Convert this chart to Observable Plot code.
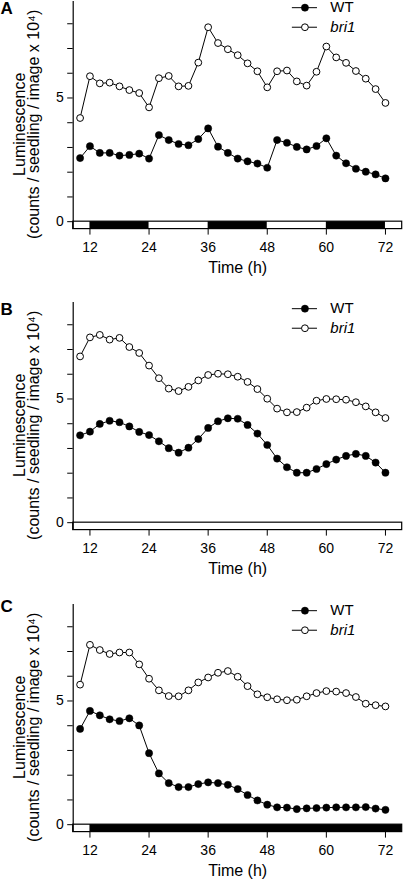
<!DOCTYPE html>
<html>
<head>
<meta charset="utf-8">
<script src="https://cdn.jsdelivr.net/npm/d3@7"></script>
<script src="https://cdn.jsdelivr.net/npm/@observablehq/plot@0.6"></script>
<style>
  html, body { margin: 0; padding: 0; background: #fff; }
  #chart svg { display: block; }
</style>
</head>
<body>
<div id="chart"></div>
<script>
// ---- Data ----
const hours = [10,12,14,16,18,20,22,24,26,28,30,32,34,36,38,40,42,44,46,48,50,52,54,56,58,60,62,64,66,68,70,72];

const wtA   = [2.57,3.05,2.78,2.78,2.67,2.70,2.75,2.55,3.50,3.30,3.14,3.09,3.34,3.77,3.03,2.78,2.55,2.44,2.35,2.18,3.30,3.19,3.02,2.92,3.06,3.37,2.67,2.36,2.14,2.02,1.91,1.75];
const bri1A = [4.19,5.88,5.59,5.62,5.47,5.32,5.20,4.62,5.80,5.89,5.47,5.49,6.43,7.86,7.22,6.97,6.73,6.40,6.08,5.43,6.08,6.11,5.67,5.50,6.06,7.08,6.64,6.42,6.09,5.78,5.36,4.80];

const wtB   = [3.53,3.68,3.99,4.12,4.06,3.89,3.67,3.54,3.29,3.01,2.83,3.03,3.38,3.83,4.10,4.22,4.20,3.95,3.60,3.14,2.59,2.24,2.02,2.02,2.17,2.37,2.55,2.70,2.78,2.70,2.43,2.02];
const bri1B = [6.72,7.49,7.59,7.40,7.47,7.10,6.86,6.35,5.84,5.42,5.32,5.49,5.75,5.97,6.02,6.00,5.90,5.69,5.40,5.01,4.61,4.46,4.47,4.65,4.93,5.00,4.99,4.97,4.87,4.70,4.46,4.23];

const wtC   = [3.87,4.60,4.42,4.26,4.19,4.30,4.01,2.89,2.07,1.68,1.52,1.52,1.64,1.71,1.68,1.61,1.44,1.20,0.98,0.81,0.70,0.69,0.63,0.66,0.67,0.69,0.70,0.70,0.70,0.71,0.65,0.60];
const bri1C = [5.66,7.27,7.06,6.90,6.96,6.96,6.48,5.90,5.43,5.20,5.19,5.43,5.75,5.95,6.14,6.21,5.98,5.60,5.27,5.15,5.07,5.03,5.05,5.19,5.32,5.40,5.38,5.32,5.16,4.89,4.83,4.78];

// dark periods (h); "end" = to the end of the time axis
const darkA = [[12,24],[36,48],[60,72]];
const darkB = [];
const darkC = [[12,"end"]];

const panelLetters = ["A","B","C"];
const seriesNames = ["WT","bri1"];
const xTicks = [12,24,36,48,60,72];
const yTicks = [0,1,2,3,4,5,6,7,8];
const yTickLabels = ["0","","","","","5","","",""];
const yTitle = ["Luminescence","(counts / seedling / image x 10⁴)"];
const xTitle = "Time (h)";

// ---- Layout / style ----
const FONT = '"Liberation Sans", Arial, Helvetica, sans-serif';
const X_DOMAIN = [8.6, 75.4];
const Y_DOMAIN = [-0.3, 8.9];
const BAR = [-0.3, 0];
const PLOT_H = 227.6;
const LEG = {x1: 53.1, x2: 58.2, xdot: 55.65, xtext: 60.8, yWT: 8.65, yBri: 7.86};

function panel(letter, wt, bri1, dark, height, letterDy) {
  const rows = hours.map((h, i) => ({h, wt: wt[i], bri1: bri1[i]}));
  const barRow = [{x1: X_DOMAIN[0], x2: X_DOMAIN[1], y1: BAR[0], y2: BAR[1]}];
  const darkRows = dark.map(([a, b]) => ({x1: a, x2: b === "end" ? X_DOMAIN[1] : b, y1: BAR[0], y2: BAR[1]}));
  const legWT = [{name: seriesNames[0], y: LEG.yWT}];
  const legBri = [{name: seriesNames[1], y: LEG.yBri}];
  return Plot.plot({
    width: 403,
    height,
    marginLeft: 72.7,
    marginRight: 1.3,
    marginTop: 1,
    marginBottom: height - 1 - PLOT_H,
    style: {fontFamily: FONT, fontSize: "14px", color: "black", background: "white", overflow: "visible"},
    x: {domain: X_DOMAIN, ticks: xTicks, tickFormat: d => String(d), label: null, tickSize: 6, tickPadding: 7},
    y: {domain: Y_DOMAIN, ticks: yTicks, tickFormat: d => yTickLabels[yTicks.indexOf(d)], label: null, tickSize: 5.5, tickPadding: 4},
    marks: [
      Plot.rect(barRow, {x1: "x1", x2: "x2", y1: "y1", y2: "y2", fill: "white"}),
      Plot.rect(darkRows, {x1: "x1", x2: "x2", y1: "y1", y2: "y2", fill: "black"}),
      Plot.rect(barRow, {x1: "x1", x2: "x2", y1: "y1", y2: "y2", fill: "none", stroke: "black", strokeWidth: 1.2}),
      Plot.ruleX([X_DOMAIN[0]], {stroke: "black", strokeWidth: 1.2}),
      Plot.line(rows, {x: "h", y: "bri1", stroke: "black", strokeWidth: 1}),
      Plot.dot(rows, {x: "h", y: "bri1", r: 3.4, fill: "white", stroke: "black", strokeWidth: 1}),
      Plot.line(rows, {x: "h", y: "wt", stroke: "black", strokeWidth: 1}),
      Plot.dot(rows, {x: "h", y: "wt", r: 3.6, fill: "black", stroke: "black", strokeWidth: 0.5}),
      // legend
      Plot.ruleY(legWT, {y: "y", x1: LEG.x1, x2: LEG.x2, stroke: "black", strokeWidth: 1}),
      Plot.ruleY(legBri, {y: "y", x1: LEG.x1, x2: LEG.x2, stroke: "black", strokeWidth: 1}),
      Plot.dot(legWT, {x: LEG.xdot, y: "y", r: 3.6, fill: "black", stroke: "black", strokeWidth: 0.5}),
      Plot.dot(legBri, {x: LEG.xdot, y: "y", r: 3.4, fill: "white", stroke: "black", strokeWidth: 1}),
      Plot.text(legWT, {x: LEG.xtext, y: "y", text: "name", textAnchor: "start", fontSize: 15}),
      Plot.text(legBri, {x: LEG.xtext, y: "y", text: "name", textAnchor: "start", fontSize: 15, fontStyle: "italic"}),
      // axis titles
      Plot.text([yTitle.join("\n")], {frameAnchor: "left", rotate: -90, dx: -34.2, dy: 9, lineAnchor: "bottom", lineHeight: 0.89, textAnchor: "middle", fontSize: 16}),
      Plot.text([xTitle], {frameAnchor: "bottom", dy: 33, lineAnchor: "top", fontSize: 16}),
      // panel letter
      Plot.text([letter], {frameAnchor: "top-left", dx: -72.7, dy: letterDy, lineAnchor: "bottom", textAnchor: "start", fontSize: 17, fontWeight: "bold"})
    ]
  });
}

const chart = document.getElementById("chart");
chart.append(panel(panelLetters[0], wtA, bri1A, darkA, 301, 12.5));
chart.append(panel(panelLetters[1], wtB, bri1B, darkB, 302, 12.5));
chart.append(panel(panelLetters[2], wtC, bri1C, darkC, 277, 7.5));
</script>
</body>
</html>
